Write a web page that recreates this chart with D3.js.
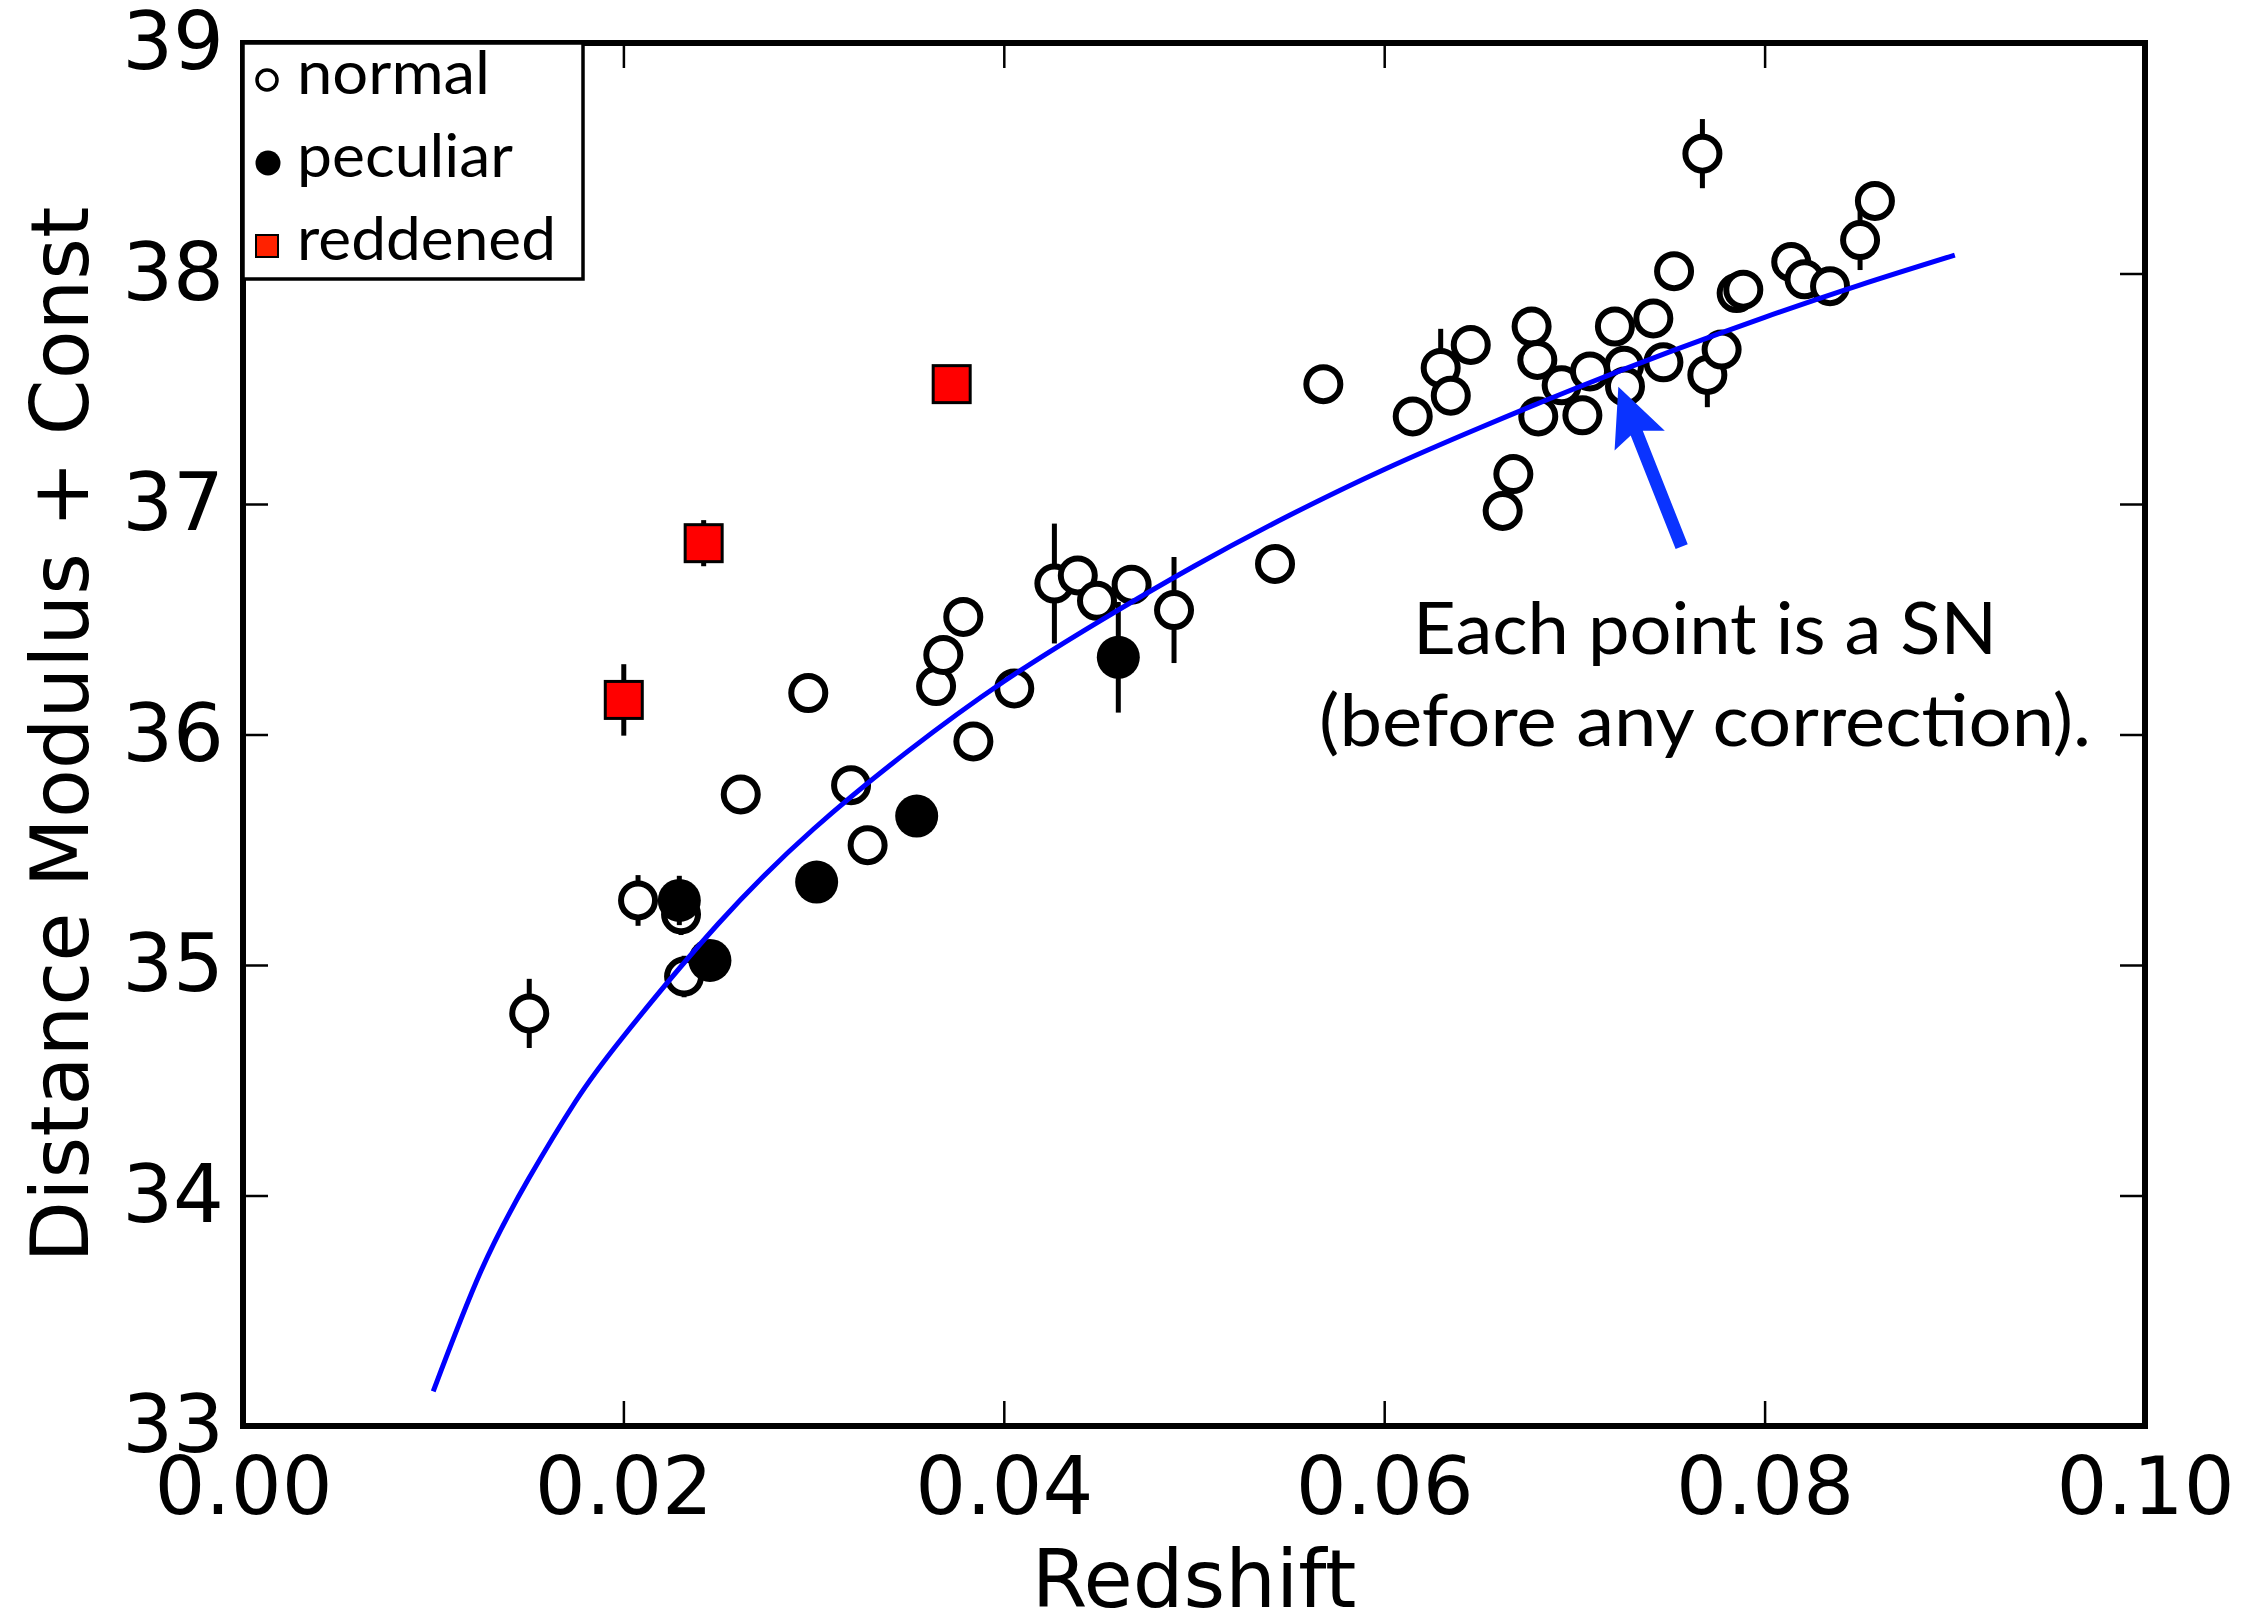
<!DOCTYPE html>
<html><head><meta charset="utf-8">
<script src="https://cdn.jsdelivr.net/npm/d3@7"></script>
<style>html,body{margin:0;padding:0;background:#fff;} svg{display:block}</style>
</head><body><svg id="chart" width="2266" height="1616"></svg>
<script>
// ---- data (redshift z, distance modulus mu, error) ----
const normalZ   = [0.01505,0.02077,0.02303,0.02319,0.02617,0.02972,0.03197,0.03284,0.03644,0.03682,0.03787,0.03840,0.04055,0.04266,0.04389,0.04490,0.04672,0.04895,0.05426,0.05680,0.06150,0.06297,0.06350,0.06455,0.06623,0.06679,0.06775,0.06805,0.06810,0.06933,0.07042,0.07082,0.07213,0.07261,0.07266,0.07415,0.07468,0.07524,0.07673,0.07699,0.07774,0.07853,0.07888,0.08140,0.08210,0.08344,0.08502,0.08580];
const normalMu  = [34.79,35.28,35.22,34.95,35.74,36.18,35.78,35.52,36.21,36.345,36.51,35.97,36.20,36.655,36.69,36.58,36.65,36.54,36.74,37.52,37.38,37.59,37.47,37.69,36.97,37.13,37.77,37.625,37.38,37.515,37.385,37.575,37.77,37.60,37.51,37.805,37.615,38.01,38.52,37.56,37.67,37.915,37.93,38.05,37.975,37.945,38.145,38.315];
const normalErr = [0.15,0.11,0.09,0.09,0,0,0,0,0,0,0,0,0,0.26,0,0,0,0.23,0,0,0,0.17,0,0,0,0,0,0,0,0,0,0,0,0,0,0,0,0,0.15,0.14,0,0,0,0,0,0,0.13,0];

const peculiarZ   = [0.02294,0.02455,0.03016,0.03542,0.04602];
const peculiarMu  = [35.28,35.02,35.36,35.646,36.335];
const peculiarErr = [0.107,0,0,0,0.24];

const reddenedZ   = [0.02002,0.02422,0.03726];
const reddenedMu  = [36.15,36.83,37.52];
const reddenedErr = [0.155,0.10,0.05];

// model curve
const curveZ  = [0.010,0.0125,0.015,0.0175,0.020,0.025,0.030,0.035,0.040,0.045,0.050,0.055,0.060,0.065,0.070,0.075,0.080,0.085,0.090];
const curveMu = [33.15,33.67,34.07,34.41,34.69,35.18,35.59,35.93,36.23,36.49,36.73,36.95,37.15,37.33,37.50,37.66,37.81,37.95,38.08];

const xTicks = [0.00,0.02,0.04,0.06,0.08,0.10];
const xTickLabels = ["0.00","0.02","0.04","0.06","0.08","0.10"];
const yTicks = [33,34,35,36,37,38,39];
const yTickLabels = ["33","34","35","36","37","38","39"];
const xLabel = "Redshift";
const yLabel = "Distance Modulus + Const";
const legendLabels = ["normal","peculiar","reddened"];
const annotationLines = ["Each point is a SN","(before any correction)."];
// annotation anchor points in data units
const arrowTip  = [0.07231, 37.509];
const arrowTail = [0.07564, 36.815];
const annotationCenterZ = 0.07687;
const annotationBaselines = [36.35, 35.95];

// ---- layout ----
const svg = d3.select("#chart");
const L = 243, R = 2145, T = 43, B = 1426;
const x = d3.scaleLinear().domain([0, 0.1]).range([L, R]);
const y = d3.scaleLinear().domain([33, 39]).range([B, T]);
const tickFont = "'DejaVu Sans', sans-serif";
const humanFont = "Lato, 'Open Sans', sans-serif";

svg.append("rect").attr("width", 2266).attr("height", 1616).attr("fill", "#fff");

// axes (inward ticks on all four sides)
function styleAxis(g) {
  g.select(".domain").remove();
  g.selectAll(".tick line").attr("stroke", "#000").attr("stroke-width", 2.5);
  g.selectAll(".tick text").attr("fill", "#000").attr("font-family", tickFont).attr("font-size", 80);
}
svg.append("g").attr("transform", `translate(0,${B})`)
  .call(d3.axisBottom(x).tickValues(xTicks).tickFormat((d, i) => xTickLabels[i]).tickSizeInner(-25).tickSizeOuter(0).tickPadding(31))
  .call(styleAxis);
svg.append("g").attr("transform", `translate(0,${T})`)
  .call(d3.axisTop(x).tickValues(xTicks).tickFormat("").tickSizeInner(-25).tickSizeOuter(0))
  .call(styleAxis);
svg.append("g").attr("transform", `translate(${L},0)`)
  .call(d3.axisLeft(y).tickValues(yTicks).tickFormat((d, i) => yTickLabels[i]).tickSizeInner(-25).tickSizeOuter(0).tickPadding(19))
  .call(styleAxis);
svg.append("g").attr("transform", `translate(${R},0)`)
  .call(d3.axisRight(y).tickValues(yTicks).tickFormat("").tickSizeInner(-25).tickSizeOuter(0))
  .call(styleAxis);

// axis labels
svg.append("text").attr("x", (L + R) / 2).attr("y", 1607)
  .attr("text-anchor", "middle").attr("font-family", tickFont).attr("font-size", 80).text(xLabel);
svg.append("text").attr("transform", `translate(88,${(T + B) / 2}) rotate(-90)`)
  .attr("text-anchor", "middle").attr("font-family", tickFont).attr("font-size", 80).text(yLabel);

// ---- data layers ----
const normal = normalZ.map((z, i) => ({z, mu: normalMu[i], e: normalErr[i]}));
const peculiar = peculiarZ.map((z, i) => ({z, mu: peculiarMu[i], e: peculiarErr[i]}));
const reddened = reddenedZ.map((z, i) => ({z, mu: reddenedMu[i], e: reddenedErr[i]}));

function errorBars(data) {
  svg.append("g").selectAll("line").data(data.filter(d => d.e > 0)).join("line")
    .attr("x1", d => x(d.z)).attr("x2", d => x(d.z))
    .attr("y1", d => y(d.mu + d.e)).attr("y2", d => y(d.mu - d.e))
    .attr("stroke", "#000").attr("stroke-width", 5);
}

errorBars(normal);
svg.append("g").selectAll("circle").data(normal).join("circle")
  .attr("cx", d => x(d.z)).attr("cy", d => y(d.mu)).attr("r", 17)
  .attr("fill", "#fff").attr("stroke", "#000").attr("stroke-width", 6);

errorBars(peculiar);
svg.append("g").selectAll("circle").data(peculiar).join("circle")
  .attr("cx", d => x(d.z)).attr("cy", d => y(d.mu)).attr("r", 21.5)
  .attr("fill", "#000");

errorBars(reddened);
svg.append("g").selectAll("rect").data(reddened).join("rect")
  .attr("x", d => x(d.z) - 18.5).attr("y", d => y(d.mu) - 18.5)
  .attr("width", 37).attr("height", 37)
  .attr("fill", "#ff0000").attr("stroke", "#000").attr("stroke-width", 3);

// model curve
const curvePts = curveZ.map((z, i) => [x(z), y(curveMu[i])]);
svg.append("path").attr("d", d3.line().curve(d3.curveNatural)(curvePts))
  .attr("fill", "none").attr("stroke", "#0000ff").attr("stroke-width", 5);

// frame
svg.append("rect").attr("x", L).attr("y", T).attr("width", R - L).attr("height", B - T)
  .attr("fill", "none").attr("stroke", "#000").attr("stroke-width", 6);

// ---- annotation arrow ----
(function () {
  const tx = x(arrowTip[0]), ty = y(arrowTip[1]);
  const sx = x(arrowTail[0]), sy = y(arrowTail[1]);
  const dx = tx - sx, dy = ty - sy, len = Math.hypot(dx, dy);
  const ux = dx / len, uy = dy / len, px = -uy, py = ux;
  const headLen = 58, headHalf = 27, shaftHalf = 6.5, notch = 8;
  const bx = tx - ux * headLen, by = ty - uy * headLen;
  const nx = bx + ux * notch, ny = by + uy * notch;
  const pts = [
    [sx + px * shaftHalf, sy + py * shaftHalf],
    [nx + px * shaftHalf, ny + py * shaftHalf],
    [bx + px * headHalf, by + py * headHalf],
    [tx, ty],
    [bx - px * headHalf, by - py * headHalf],
    [nx - px * shaftHalf, ny - py * shaftHalf],
    [sx - px * shaftHalf, sy - py * shaftHalf]
  ];
  svg.append("path").attr("d", "M" + pts.map(p => p.join(",")).join("L") + "Z")
    .attr("fill", "#0a33ff");
})();

const annWidths = [584, 772];
annotationLines.forEach((t, i) => {
  svg.append("text").attr("x", x(annotationCenterZ)).attr("y", y(annotationBaselines[i]))
    .attr("text-anchor", "middle").attr("font-family", humanFont).attr("font-size", 72)
    .attr("textLength", annWidths[i]).attr("lengthAdjust", "spacingAndGlyphs")
    .attr("fill", "#000").text(t);
});

// ---- legend ----
const lg = svg.append("g");
lg.append("rect").attr("x", L).attr("y", T).attr("width", 340).attr("height", 236)
  .attr("fill", "#fff").attr("stroke", "#000").attr("stroke-width", 3.5);
const legendBaselines = [94, 177, 260];
const legendWidths = [193, 216, 259];
legendLabels.forEach((t, i) => {
  const cy = legendBaselines[i] - 14;
  if (i === 0) lg.append("circle").attr("cx", 267).attr("cy", cy).attr("r", 10).attr("fill", "#fff").attr("stroke", "#000").attr("stroke-width", 3.5);
  if (i === 1) lg.append("circle").attr("cx", 268).attr("cy", cy).attr("r", 12.5).attr("fill", "#000");
  if (i === 2) lg.append("rect").attr("x", 256).attr("y", cy - 11).attr("width", 22).attr("height", 22).attr("fill", "#ff2200").attr("stroke", "#000").attr("stroke-width", 2);
  lg.append("text").attr("x", 297).attr("y", legendBaselines[i])
    .attr("font-family", humanFont).attr("font-size", 60)
    .attr("textLength", legendWidths[i]).attr("lengthAdjust", "spacingAndGlyphs")
    .attr("fill", "#000").text(t);
});
</script></body></html>
